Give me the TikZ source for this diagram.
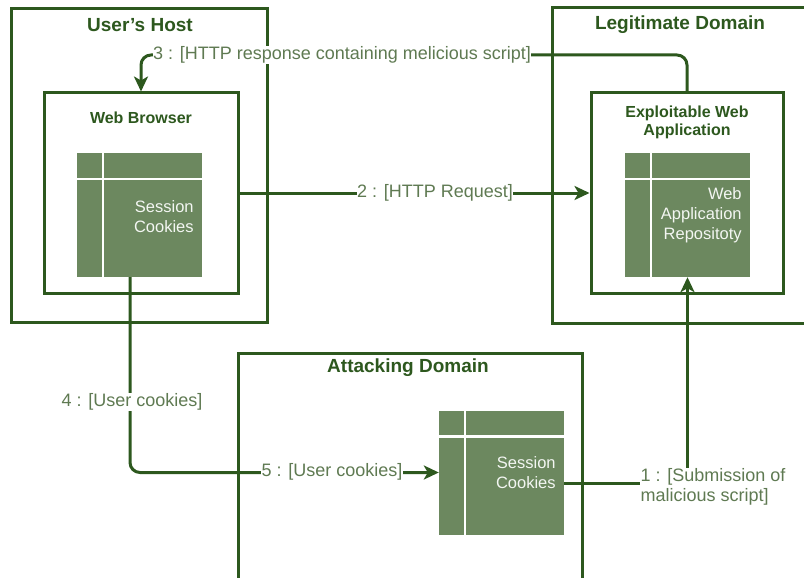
\documentclass[tikz,border=0pt]{standalone}
\usepackage{fontspec}
\setmainfont{Liberation Sans}
\usetikzlibrary{arrows.meta,calc}
\definecolor{dg}{RGB}{45,88,30}
\definecolor{tg}{RGB}{108,136,95}
\definecolor{lg}{RGB}{95,122,82}
\begin{document}
\begin{tikzpicture}[x=1pt,y=-1pt,
  box/.style={draw=dg, line width=3pt, fill=white, inner sep=0pt},
  tbl/.style={fill=tg, draw=none, minimum width=125pt, minimum height=124pt, inner sep=0pt},
  divider/.style={draw=white, line width=2.5pt},
  titletext/.style={text=dg, font=\bfseries\fontsize{19}{21}\selectfont},
  subtitle/.style={text=dg, font=\bfseries\fontsize{16}{18}\selectfont, align=center},
  lbl/.style={text=lg, fill=white, inner sep=0.5pt, font=\fontsize{18}{20}\selectfont},
  tt/.style={text=white!92!tg, font=\fontsize{16.5}{20}\selectfont, align=right, anchor=east},
  conn/.style={draw=dg, line width=3pt},
  arr/.style={-{Stealth[length=15pt,width=14pt,inset=4pt]}}
]
\useasboundingbox (0,0) rectangle (804,578);
\clip (0,0) rectangle (804,578);
\fill[white] (0,0) rectangle (804,578);

% outer boxes
\node[box, minimum width=256pt, minimum height=313pt] (host) at (139,165.5) {};
\node[box, minimum width=260pt, minimum height=315pt] (legit) at (682,165.5) {};
\node[box, minimum width=344pt, minimum height=237pt] (attack) at (410,471.5) {};

% inner boxes
\node[box, minimum width=194pt, minimum height=200pt] (browser) at (141,193) {};
\node[box, minimum width=192pt, minimum height=201pt] (exploit) at (687,193) {};

% titles
\node[titletext] (hostT) at (140,25) {User's Host};
\node[titletext] (legitT) at (680,25) {Legitimate Domain};
\node[titletext] (attackT) at (408,368) {Attacking Domain};
\node[subtitle] (browserT) at (141,118) {Web Browser};
\node[subtitle] (exploitT) at (687,122) {Exploitable Web\\Application};

% tables
\node[tbl] (tb1) at (139.5,215) {};
\node[tbl] (tb2) at (687.5,215) {};
\node[tbl] (tb3) at (501.5,472.5) {};
\foreach \t in {tb1,tb2,tb3}{
  \draw[divider] ([yshift=-26pt]\t.north west) -- ([yshift=-26pt]\t.north east);
  \draw[divider] ([xshift=26pt]\t.north west) -- ([xshift=26pt]\t.south west);
}
\node[tt] (tb1T) at ([xshift=-5pt,yshift=-1.5pt]tb1.east) {Session\\Cookies};
\node[tt] (tb2T) at ([xshift=-5pt]tb2.east) {Web\\Application\\Repositoty};
\node[tt] (tb3T) at ([xshift=-5pt]tb3.east) {Session\\Cookies};

% connectors
\coordinate (c3) at (141,55);
\draw[conn, arr] (browser.east) -- (exploit.west);
\draw[conn, arr, rounded corners=10pt] (exploit.north) |- (c3) -- (browser.north);
\draw[conn, arr, rounded corners=10pt] ([xshift=-9.5pt]tb1.south) |- (tb3.west);
\draw[conn, arr] ([yshift=-10.5pt]tb3.east) -| (tb2.south);

% labels
\node[lbl] (l2) at (435,193) {2 : [HTTP Request]};
\node[lbl] (l3) at (342,55) {3 : [HTTP response containing melicious script]};
\node[lbl] (l4) at (132,402) {4 : [User cookies]};
\node[lbl] (l5) at (332,472) {5 : [User cookies]};
\node[lbl, align=left, anchor=west] (l1) at (640,487) {1 : [Submission of\\malicious script]};
\end{tikzpicture}
\end{document}
